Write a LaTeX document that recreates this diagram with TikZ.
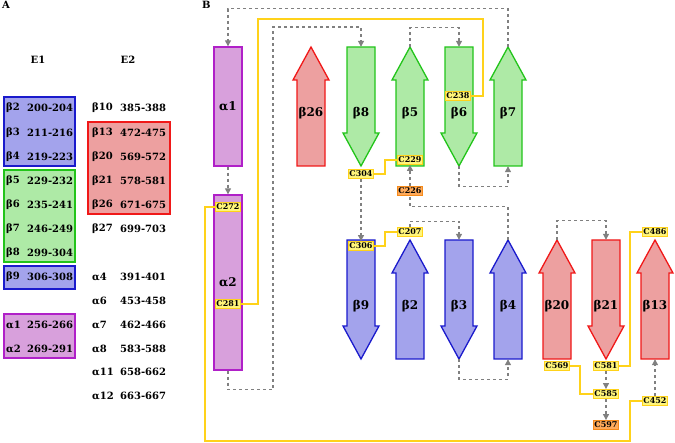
\documentclass[tikz,border=0pt]{standalone}
\usepackage{fontspec}
\setmainfont{DejaVu Serif}
\usepackage{tikz}
\usetikzlibrary{positioning, arrows.meta, calc}
\definecolor{bluefill}{HTML}{A3A3EC}
\definecolor{blueline}{HTML}{1A1ACC}
\definecolor{greenfill}{HTML}{AEEAA6}
\definecolor{greenline}{HTML}{22C41A}
\definecolor{redfill}{HTML}{EDA0A0}
\definecolor{redline}{HTML}{F01818}
\definecolor{magfill}{HTML}{D8A0DC}
\definecolor{magline}{HTML}{B020C8}
\definecolor{cysfill}{HTML}{FFF57A}
\definecolor{cysline}{HTML}{FFD21A}
\definecolor{orfill}{HTML}{FFAA5A}
\definecolor{orline}{HTML}{F58A1A}
\newcommand{\upstrand}[5]{%
  \draw[#5] (#2-14,#3+119) -- (#2-14,#3+33) -- (#2-18,#3+33) -- (#2,#3)
    -- (#2+18,#3+33) -- (#2+14,#3+33) -- (#2+14,#3+119) -- cycle;
  \node[strandlab] (#1) at (#2,#3+59.5) {};
  \node[font=\bfseries\large] at (#2,#3+66) {#4};}
\newcommand{\downstrand}[5]{%
  \draw[#5] (#2-14,#3) -- (#2-14,#3+86) -- (#2-18,#3+86) -- (#2,#3+119)
    -- (#2+18,#3+86) -- (#2+14,#3+86) -- (#2+14,#3) -- cycle;
  \node[strandlab] (#1) at (#2,#3+59.5) {};
  \node[font=\bfseries\large] at (#2,#3+66) {#4};}

\begin{document}
\begin{tikzpicture}[
  x=1pt, y=-1pt,
  bluestr/.style={draw=blueline, fill=bluefill, line width=1.3pt},
  greenstr/.style={draw=greenline, fill=greenfill, line width=1.3pt},
  redstr/.style={draw=redline, fill=redfill, line width=1.3pt},
  strandlab/.style={inner sep=0, minimum width=28pt, minimum height=119pt},
  helix/.style={draw=magline, fill=magfill, line width=1.3pt, inner sep=0,
              minimum width=28pt, font=\bfseries\large},
  cys/.style={draw=cysline, fill=cysfill, line width=1.2pt, inner sep=1.3pt,
              font=\bfseries\footnotesize},
  cysor/.style={cys, draw=orline, fill=orfill},
  ssbond/.style={draw=cysline, line width=1.2pt},
  loop/.style={draw=gray, dashed, line width=1.1pt,
              -{Triangle[length=6pt,width=6pt]}},
  plainloop/.style={draw=gray, dashed, line width=1.1pt},
  tab/.style={font=\bfseries, anchor=west, inner sep=0}
]
  \useasboundingbox (0,0) rectangle (675,443);

  % Panel A
  \node[font=\bfseries, anchor=north west, inner sep=0] (la) at (2,1) {A};
  \node[font=\bfseries] (e1) at (38,60) {E1};
  \node[font=\bfseries] (e2) at (128,60) {E2};
  \draw[draw=blueline, fill=bluefill, line width=1.1pt] (4,97) rectangle (75,166);
  \draw[draw=greenline, fill=greenfill, line width=1.1pt] (4,170) rectangle (75,262);
  \draw[draw=blueline, fill=bluefill, line width=1.1pt] (4,266) rectangle (75,289);
  \draw[draw=magline, fill=magfill, line width=1.1pt] (4,314) rectangle (75,358);
  \draw[draw=redline, fill=redfill, line width=1.1pt] (88,122) rectangle (170,214);
  \foreach \y/\s/\r in {108/β2/200-204, 133/β3/211-216, 157/β4/219-223,
      181/β5/229-232, 205/β6/235-241, 229/β7/246-249, 253/β8/299-304,
      277/β9/306-308, 325/α1/256-266, 349/α2/269-291} {
    \node[tab] at (6,\y) {\s};
    \node[tab] at (27,\y) {\r};
  }
  \foreach \y/\s/\r in {108/β10/385-388, 133/β13/472-475, 157/β20/569-572,
      181/β21/578-581, 205/β26/671-675, 229/β27/699-703, 277/α4/391-401,
      301/α6/453-458, 325/α7/462-466, 349/α8/583-588, 372/α11/658-662,
      396/α12/663-667} {
    \node[tab] at (92,\y) {\s};
    \node[tab] at (120,\y) {\r};
  }

  % Panel B
  \node[font=\bfseries, anchor=north west, inner sep=0] (lb) at (202,1) {B};
  \node[helix, minimum height=119pt] (a1) at (228,106.5) {α1};
  \node[helix, minimum height=175pt] (a2) at (228,282.5) {α2};
  \upstrand{b26}{311}{47}{β26}{redstr}
  \downstrand{b8}{361}{47}{β8}{greenstr}
  \upstrand{b5}{410}{47}{β5}{greenstr}
  \downstrand{b6}{459}{47}{β6}{greenstr}
  \upstrand{b7}{508}{47}{β7}{greenstr}
  \downstrand{b9}{361}{240}{β9}{bluestr}
  \upstrand{b2}{410}{240}{β2}{bluestr}
  \downstrand{b3}{459}{240}{β3}{bluestr}
  \upstrand{b4}{508}{240}{β4}{bluestr}
  \upstrand{b20}{557}{240}{β20}{redstr}
  \downstrand{b21}{606}{240}{β21}{redstr}
  \upstrand{b13}{655}{240}{β13}{redstr}

  % cysteines
  \node[cys] (c238) at (458,96) {C238};
  \node[cys] (c304) at (361,174) {C304};
  \node[cys] (c229) at (410,160) {C229};
  \node[cysor] (c226) at (410,191) {C226};
  \node[cys] (c272) at (228,207) {C272};
  \node[cys] (c281) at (228,304) {C281};
  \node[cys] (c306) at (361,246) {C306};
  \node[cys] (c207) at (410,232) {C207};
  \node[cys] (c569) at (557,366) {C569};
  \node[cys] (c581) at (606,366) {C581};
  \node[cys] (c585) at (606,394) {C585};
  \node[cysor] (c597) at (606,425) {C597};
  \node[cys] (c452) at (655,401) {C452};
  \node[cys] (c486) at (655,232) {C486};

  % loops
  \draw[loop] (b7.north) -- ++(0,-38) -| (a1.north);
  \draw[loop] (a1.south) -- (a2.north);
  \draw[loop] (a2.south) -- ++(0,19) -| (273,27) -| (b8.north);
  \draw[loop] (c304.south) -- (c306.north);
  \draw[loop] (b5.north) -- ++(0,-19) -| (b6.north);
  \draw[loop] (b6.south) -- ++(0,20) -| (b7.south);
  \draw[loop] (c226.north) -- (c229.south);
  \draw[plainloop] (b4.north) -- ++(0,-33) -| (c226.south);
  \draw[loop] (c207.north) -- ++(0,-6) -| (b3.north);
  \draw[loop] (b3.south) -- ++(0,20) -| (b4.south);
  \draw[loop] (b20.north) -- ++(0,-19) -| (b21.north);
  \draw[loop] (c581.south) -- (c585.north);
  \draw[loop] (c585.south) -- (c597.north);
  \draw[loop] (c452.north) -- (b13.south);

  % disulfides
  \draw[ssbond] (c238.east) -| (483,19) -| (258,304) -- (c281.east);
  \draw[ssbond] (c304.east) -| (385,160) -- (c229.west);
  \draw[ssbond] (c272.west) -| (205,441) -| (630,401) -- (c452.west);
  \draw[ssbond] (c306.east) -| (385,232) -- (c207.west);
  \draw[ssbond] (c569.east) -| (580,394) -- (c585.west);
  \draw[ssbond] (c581.east) -| (630,232) -- (c486.west);
\end{tikzpicture}
\end{document}
